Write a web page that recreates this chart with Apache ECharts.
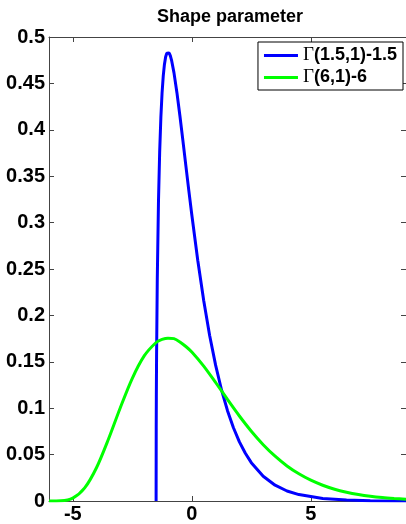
<!DOCTYPE html>
<html>
<head>
<meta charset="utf-8">
<script src="https://cdn.jsdelivr.net/npm/echarts@6/dist/echarts.min.js"></script>
<style>
  html, body { margin: 0; padding: 0; background: #fff; }
  #chart { width: 406px; height: 524px; }
</style>
</head>
<body>
<div id="chart"></div>
<script>
// Γ(1.5,1)-1.5 curve
const blueX = [-1.5, -1.495, -1.49, -1.48, -1.45, -1.4, -1.35, -1.3, -1.25, -1.2, -1.15, -1.1, -1.05, -1.0,
  -0.95, -0.9, -0.85, -0.75, -0.625, -0.5, -0.375, -0.25, -0.125, 0, 0.25, 0.5, 0.75, 1.0, 1.25, 1.5,
  1.75, 2.0, 2.25, 2.5, 3.0, 3.5, 4.0, 4.5, 5.5, 6.5, 7.5, 9.0]
const blueY = [0, 0.0794, 0.1117, 0.1564, 0.2400, 0.3228, 0.3761, 0.4131, 0.4394, 0.4578, 0.4704, 0.4784, 0.4826, 0.4839,
  0.4828, 0.4797, 0.4749, 0.4616, 0.4400, 0.4151, 0.3886, 0.3614, 0.3345, 0.3084, 0.2594, 0.2160, 0.1784, 0.1464, 0.1196, 0.0973,
  0.0789, 0.0637, 0.0514, 0.0413, 0.0266, 0.0170, 0.0108, 0.0069, 0.0027, 0.0011, 0.0004, 0.0001]

// Γ(6,1)-6 curve
const greenX = [-6, -5.5, -5, -4.5, -4, -3.5, -3, -2.5, -2, -1.5, -1.25, -1, -0.75, -0.5, -0.25, 0, 0.5, 1, 1.5, 2,
  2.5, 3, 3.5, 4, 4.5, 5, 5.5, 6, 6.5, 7, 7.5, 8, 8.5, 9]
const greenY = [0, 0.0002, 0.0031, 0.0141, 0.0361, 0.0668, 0.1008, 0.1322, 0.1563, 0.1708, 0.1741, 0.1755, 0.1749, 0.1714, 0.1665, 0.1606, 0.1454, 0.1277, 0.1094, 0.0916,
  0.0752, 0.0607, 0.0483, 0.0378, 0.0293, 0.0224, 0.0170, 0.0127, 0.0095, 0.0070, 0.0051, 0.0037, 0.0027, 0.0019]

const xTicks = [-5, 0, 5]
const seriesNames = ['Γ(1.5,1)-1.5', 'Γ(6,1)-6']

const zip = (xs, ys) => xs.map((x, i) => [x, ys[i]])

const axisColor = '#444'
const labelFont = { fontFamily: 'Liberation Sans, Arial, sans-serif', fontWeight: 'bold', fontSize: 20, color: '#000' }

const chart = echarts.init(document.getElementById('chart'))
chart.setOption({
  animation: false,
  title: {
    text: 'Shape parameter',
    left: 152,
    top: 3,
    textStyle: { fontFamily: 'Liberation Sans, Arial, sans-serif', fontWeight: 'bold', fontSize: 18, color: '#000' }
  },
  legend: {
    orient: 'vertical',
    right: 3,
    top: 42,
    backgroundColor: '#fff',
    borderColor: '#000',
    borderWidth: 1,
    borderRadius: 0,
    padding: [4, 6, 3, 6],
    itemGap: 3,
    itemWidth: 34,
    itemHeight: 3,
    icon: 'rect',
    data: seriesNames,
    formatter: name => '{g|Γ}{t|' + name.slice(1) + '}',
    textStyle: {
      rich: {
        g: { fontFamily: 'Liberation Serif, Times New Roman, serif', fontSize: 19, color: '#000' },
        t: { fontFamily: 'Liberation Sans, Arial, sans-serif', fontWeight: 'bold', fontSize: 18, color: '#000' }
      }
    }
  },
  grid: { left: 49, right: -3, top: 37, bottom: 21 },
  xAxis: [
    {
      type: 'value',
      min: -6,
      max: 9,
      splitLine: { show: false },
      axisLine: { onZero: false, lineStyle: { color: axisColor, width: 1 } },
      axisTick: { inside: true, length: 5, customValues: xTicks, lineStyle: { color: axisColor } },
      axisLabel: Object.assign({ customValues: xTicks, margin: 3 }, labelFont)
    },
    {
      type: 'value',
      position: 'top',
      min: -6,
      max: 9,
      splitLine: { show: false },
      axisLine: { onZero: false, lineStyle: { color: axisColor, width: 1 } },
      axisTick: { inside: true, length: 5, customValues: xTicks, lineStyle: { color: axisColor } },
      axisLabel: { show: false }
    }
  ],
  yAxis: [
    {
      type: 'value',
      min: 0,
      max: 0.5,
      interval: 0.05,
      splitLine: { show: false },
      axisLine: { show: true, onZero: false, lineStyle: { color: axisColor, width: 1 } },
      axisTick: { show: true, inside: true, length: 5, lineStyle: { color: axisColor } },
      axisLabel: Object.assign({ margin: 4 }, labelFont)
    },
    {
      type: 'value',
      position: 'right',
      min: 0,
      max: 0.5,
      interval: 0.05,
      splitLine: { show: false },
      axisLine: { show: true, onZero: false, lineStyle: { color: axisColor, width: 1 } },
      axisTick: { show: true, inside: true, length: 5, lineStyle: { color: axisColor } },
      axisLabel: { show: false }
    }
  ],
  series: [
    {
      name: seriesNames[0],
      type: 'line',
      data: zip(blueX, blueY),
      showSymbol: false,
      color: '#0000ff',
      lineStyle: { width: 3, color: '#0000ff' },
      z: 2
    },
    {
      name: seriesNames[1],
      type: 'line',
      data: zip(greenX, greenY),
      showSymbol: false,
      smooth: 0.3,
      color: '#00ff00',
      lineStyle: { width: 3, color: '#00ff00' },
      z: 3
    }
  ]
})
</script>
</body>
</html>
